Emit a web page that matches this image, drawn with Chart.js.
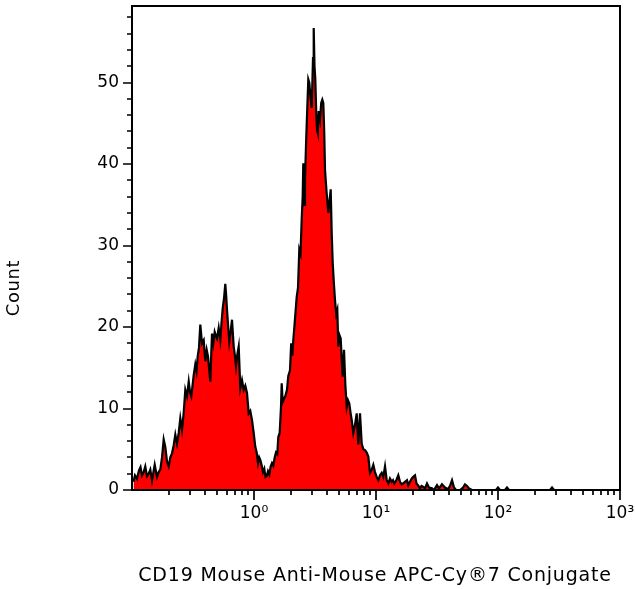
<!DOCTYPE html>
<html><head><meta charset="utf-8">
<script src="https://cdn.jsdelivr.net/npm/chart.js@4"></script>
<style>html,body{margin:0;padding:0;background:#fff}#wrap{width:635px;height:589px}</style>
</head><body><div id="wrap"><canvas id="c" width="635" height="589"></canvas></div>
<script>
// Fluorescence channel (log scale) and event counts
const channelValues = [
0.1029,0.1058,0.1099,0.1141,0.1174,0.1208,0.1247,0.1285,0.1327,0.1370,
0.1413,0.1459,0.1535,0.1603,0.1655,0.1706,0.1762,0.1819,0.1875,0.1936,
0.1999,0.2061,0.2128,0.2197,0.2265,0.2338,0.2415,0.2489,0.2570,0.2654,
0.2735,0.2824,0.2917,0.2989,0.3063,0.3205,0.3303,0.3379,0.3456,0.3542,
0.3630,0.3748,0.3870,0.3989,0.4096,0.4198,0.4294,0.4384,0.4459,0.4527,
0.4639,0.4763,0.4882,0.4975,0.5137,0.5295,0.5416,0.5540,0.5677,0.5818,
0.5918,0.6008,0.6146,0.6275,0.6443,0.6603,0.6818,0.6987,0.7121,0.7297,
0.7492,0.7722,0.7974,0.8235,0.8487,0.8763,0.9050,0.9326,0.9630,0.9943,
1.0248,1.0523,1.0784,1.1031,1.1262,1.1564,1.1851,1.2145,1.2423,1.2708,
1.3024,1.3347,1.3704,1.4044,1.4393,1.4778,1.5145,1.5521,1.5817,1.6241,
1.6644,1.6866,1.7187,1.7614,1.8051,1.8639,1.9102,1.9725,2.0177,2.0605,
2.0998,2.1683,2.2387,2.2943,2.3512,2.4050,2.4601,2.5070,2.5355,2.5790,
2.6182,2.6782,2.7352,2.7872,2.8404,2.8933,2.9721,3.0458,3.0862,3.1332,
3.1809,3.2415,3.2847,3.3347,3.3918,3.4760,3.5556,3.6299,3.6989,3.7624,
3.8197,3.9145,3.9892,4.0653,4.1584,4.2536,4.3347,4.4173,4.5099,4.6131,
4.7188,4.8178,4.9094,5.0219,5.1371,5.2349,5.3347,5.4674,5.6032,5.7533,
5.8963,6.0426,6.1808,6.3222,6.5160,6.7286,6.9482,7.1609,7.3946,7.6359,
7.8700,8.1267,8.3918,8.6491,8.9314,9.2229,9.5060,9.8130,10.133,10.444,
10.785,11.137,11.478,11.853,12.240,12.615,13.026,13.451,13.785,14.125,
14.669,15.233,15.730,16.243,16.646,17.287,17.953,18.398,18.998,19.618,
20.104,20.877,21.475,22.091,22.943,23.602,24.279,25.214,26.182,27.189,
28.774,29.882,31.623,32.84,34.75,36.78,38.93,40.43,41.99,43.60,
45.28,48.83,51.67,53.65,55.71,57.86,61.23,71.18,86.00,96.3,
100.0,103.8,114.1,118.5,123.1,151.5,266.9,277.2,287.8,469.9,
1000
];
const counts = [
1.0,1.8,1.4,2.4,2.8,1.8,2.2,2.9,1.7,2.0,
2.5,1.2,3.1,1.6,2.2,2.5,4.0,6.2,5.3,3.5,
2.9,4.0,4.5,5.5,6.8,5.7,7.0,8.8,7.4,9.5,
12.3,11.5,13.3,12.0,11.5,14.1,15.4,14.6,16.4,17.5,
20.3,18.0,18.4,15.8,17.2,16.4,14.8,13.3,16.5,19.2,
18.0,19.4,18.9,18.6,19.9,18.4,20.5,22.3,23.5,25.3,
23.8,22.1,20.0,18.2,19.5,20.9,17.6,16.4,15.2,16.6,
17.6,12.5,13.5,12.3,12.8,11.9,9.4,9.7,8.6,7.0,
5.3,4.6,3.3,4.0,3.7,3.0,2.2,2.6,1.6,1.7,
2.3,1.9,2.9,3.3,3.0,4.0,4.6,4.4,6.5,7.0,
10.2,13.1,10.8,11.2,11.5,12.3,14.0,14.7,18.0,16.5,
18.4,21.0,23.7,24.8,29.5,29.0,33.2,36.0,40.1,35.0,
38.1,43.0,47.0,50.4,50.0,48.5,46.9,53.0,56.7,52.0,
50.4,46.0,44.2,43.8,46.5,45.5,47.5,47.9,47.5,44.0,
39.3,37.0,35.5,34.0,35.5,36.9,31.5,27.9,25.5,23.3,
21.6,22.1,17.6,19.0,18.6,16.0,13.9,17.2,13.0,10.2,
11.0,10.6,9.5,8.6,7.0,8.0,9.4,5.6,9.4,5.7,
5.0,4.9,4.6,4.1,2.1,2.5,3.1,2.2,1.6,1.2,
1.8,2.1,1.6,2.9,1.2,0.8,1.4,1.0,1.2,0.8,
1.2,1.8,1.0,0.7,0.8,1.0,1.2,0.6,1.0,1.4,
1.6,1.8,0.8,0.6,0.2,0.5,0.4,0.2,0.8,0.3,
0.2,0.0,0.6,0.2,0.7,0.3,0.1,0.5,1.2,0.3,
0.0,0.0,0.3,0.7,0.5,0.2,0.0,0.0,0.0,0.0,
0.3,0.0,0.0,0.3,0.0,0.0,0.0,0.3,0.0,0.0,
0.0
];
const xMajorTicks = [1, 10, 100, 1000];
const xTickLabels = ['10\u2070', '10\u00B9', '10\u00B2', '10\u00B3'];
const xMinorTicks = [0.2,0.3,0.4,0.5,0.6,0.7,0.8,0.9,2,3,4,5,6,7,8,9,20,30,40,50,60,70,80,90,200,300,400,500,600,700,800,900];
const yMajorTicks = [0, 10, 20, 30, 40, 50];
const yTickLabels = ['0', '10', '20', '30', '40', '50'];
const yMinorTicks = [2,4,6,8,12,14,16,18,22,24,26,28,32,34,36,38,42,44,46,48,52,54,56,58];
const xRange = [0.1, 1000];
const yRange = [0, 59.4];
const xTitle = 'CD19 Mouse Anti-Mouse APC-Cy\u00AE7 Conjugate';
const yTitle = 'Count';

const points = channelValues.map((v, i) => ({x: v, y: counts[i]}));

function noPad(s) { s.paddingTop = 0; s.paddingBottom = 0; s.paddingLeft = 0; s.paddingRight = 0; }

const framePlugin = {
  id: 'frameTicks',
  afterDraw(chart) {
    const {ctx, chartArea: a, scales} = chart;
    ctx.save();
    ctx.strokeStyle = '#000';
    ctx.lineWidth = 2;
    ctx.strokeRect(a.left, a.top, a.right - a.left, a.bottom - a.top);
    ctx.lineWidth = 1.7;
    ctx.beginPath();
    const xs = scales.x, ys = scales.y;
    xMajorTicks.forEach(v => { const p = Math.round(xs.getPixelForValue(v)); ctx.moveTo(p, a.bottom); ctx.lineTo(p, a.bottom + 10); });
    xMinorTicks.forEach(v => { const p = Math.round(xs.getPixelForValue(v)); ctx.moveTo(p, a.bottom); ctx.lineTo(p, a.bottom + 5); });
    yMajorTicks.forEach(v => { const p = Math.round(ys.getPixelForValue(v)); ctx.moveTo(a.left, p); ctx.lineTo(a.left - 9, p); });
    yMinorTicks.forEach(v => { const p = Math.round(ys.getPixelForValue(v)); ctx.moveTo(a.left, p); ctx.lineTo(a.left - 5, p); });
    ctx.stroke();
    ctx.fillStyle = '#000';
    // x-axis title
    ctx.font = '19px "DejaVu Sans"';
    ctx.letterSpacing = '0.8px';
    ctx.textAlign = 'center';
    ctx.textBaseline = 'middle';
    ctx.fillText(xTitle, 375, 576);
    // y-axis title
    ctx.font = '18px "DejaVu Sans"';
    ctx.letterSpacing = '0.6px';
    ctx.translate(14, 288);
    ctx.rotate(-Math.PI / 2);
    ctx.fillText(yTitle, 0, 0);
    ctx.restore();
  }
};

new Chart(document.getElementById('c'), {
  type: 'line',
  data: {
    datasets: [{
      data: points,
      borderColor: '#000',
      borderWidth: 2.2,
      backgroundColor: '#ff0000',
      fill: 'origin',
      pointRadius: 0,
      tension: 0
    }]
  },
  options: {
    responsive: false,
    animation: false,
    devicePixelRatio: 1,
    layout: {padding: {top: 6, right: 15, left: 0, bottom: 0}},
    plugins: {legend: {display: false}, tooltip: {enabled: false}},
    scales: {
      x: {
        type: 'logarithmic',
        min: xRange[0], max: xRange[1],
        grid: {display: false, drawTicks: false},
        border: {display: false},
        afterBuildTicks: s => { s.ticks = xMajorTicks.map(v => ({value: v})); },
        afterFit: s => { s.height = 99; noPad(s); },
        ticks: {
          autoSkip: false, maxRotation: 0, padding: 13, color: '#000',
          font: {family: '"DejaVu Sans"', size: 17},
          callback: (v, i) => xTickLabels[i]
        }
      },
      y: {
        type: 'linear',
        min: yRange[0], max: yRange[1],
        grid: {display: false, drawTicks: false},
        border: {display: false},
        afterBuildTicks: s => { s.ticks = yMajorTicks.map(v => ({value: v})); },
        afterFit: s => { s.width = 132; noPad(s); },
        ticks: {
          autoSkip: false, padding: 13, color: '#000',
          font: {family: '"DejaVu Sans"', size: 17},
          callback: (v, i) => yTickLabels[i]
        }
      }
    }
  },
  plugins: [framePlugin]
});
</script>
</body></html>
